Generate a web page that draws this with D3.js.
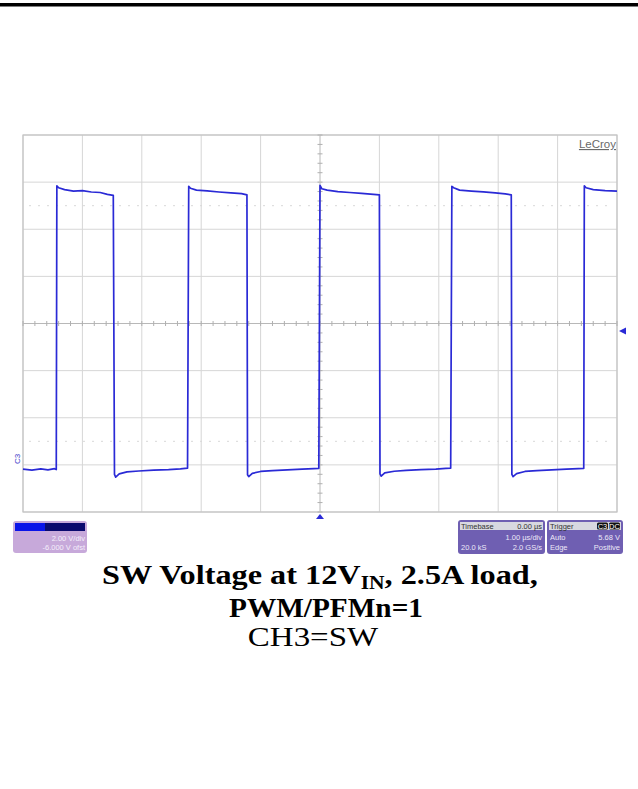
<!DOCTYPE html>
<html>
<head>
<meta charset="utf-8">
<script src="https://cdn.jsdelivr.net/npm/d3@7"></script>
<style>
  body { margin: 0; background: #fff; }
  svg { display: block; }
</style>
</head>
<body>
<svg id="main"></svg>
<script>
// scope settings
var timeDomain = [-5, 5];      // us, 1.00 us/div
var voltDomain = [-2, 14];     // V, 2.00 V/div, -6.000 V offset
var timeTicks = [-5, -4, -3, -2, -1, 0, 1, 2, 3, 4, 5];
var voltTicks = [-2, 0, 2, 4, 6, 8, 10, 12, 14];
var refLevels = [1, 11];
var triggerLevel = 5.68;
var triggerTime = 0;

// CH3 = SW trace
var traceTime = [
  -5.00, -4.85, -4.70, -4.58, -4.47, -4.44,
  -4.43, -4.40, -4.30, -4.15, -4.00, -3.85, -3.70, -3.58, -3.48,
  -3.46, -3.44, -3.38, -3.25, -3.05, -2.80, -2.55, -2.35, -2.23,
  -2.21, -2.18, -2.08, -1.90, -1.70, -1.50, -1.32, -1.23,
  -1.22, -1.20, -1.14, -1.00, -0.80, -0.55, -0.30, -0.10, -0.02,
   0.00,  0.03,  0.12,  0.30,  0.50,  0.70,  0.90,  1.00,
   1.01,  1.03,  1.09,  1.25,  1.45,  1.70,  1.95,  2.12,  2.20,
   2.22,  2.25,  2.35,  2.55,  2.75,  2.95,  3.12,  3.22,
   3.23,  3.25,  3.31,  3.45,  3.65,  3.90,  4.15,  4.35,  4.44,
   4.45,  4.48,  4.60,  4.80,  5.00
];
var traceVolt = [
  -0.18, -0.22, -0.17, -0.21, -0.16, -0.20,
  11.84, 11.76, 11.68, 11.62, 11.64, 11.58, 11.56, 11.48, 11.44,
  -0.40, -0.52, -0.38, -0.30, -0.26, -0.22, -0.20, -0.17, -0.14,
  11.82, 11.74, 11.66, 11.63, 11.58, 11.54, 11.51, 11.46,
  -0.42, -0.50, -0.36, -0.28, -0.24, -0.21, -0.18, -0.16, -0.15,
  11.86, 11.72, 11.66, 11.60, 11.56, 11.52, 11.48, 11.46,
  -0.38, -0.48, -0.34, -0.27, -0.23, -0.20, -0.18, -0.15, -0.14,
  11.82, 11.76, 11.66, 11.62, 11.59, 11.54, 11.50, 11.46,
  -0.40, -0.50, -0.37, -0.28, -0.24, -0.21, -0.18, -0.16, -0.15,
  11.84, 11.76, 11.68, 11.64, 11.62
];

var w = 638;
var h = 789;
// plot area (avoid "top" which is a window property)
var pL = 23, pR = 617, pT = 135, pB = 512;

var svg = d3.select("#main")
  .attr("width", w)
  .attr("height", h);

// page rule at top
svg.append("rect")
  .attr("x", 0).attr("y", 3)
  .attr("width", w).attr("height", 3.5)
  .attr("fill", "#000");

var xScale = d3.scaleLinear().domain(timeDomain).range([pL, pR]);
var yScale = d3.scaleLinear().domain(voltDomain).range([pB, pT]);

var grid = svg.append("g");

grid.selectAll("line.v")
  .data(timeTicks)
  .enter()
  .append("line")
  .attr("x1", function(d) { return xScale(d); })
  .attr("x2", function(d) { return xScale(d); })
  .attr("y1", pT).attr("y2", pB)
  .attr("stroke", function(d) { return d === 0 ? "#b8b8b8" : "#d6d6d6"; })
  .attr("stroke-width", 1);

grid.selectAll("line.h")
  .data(voltTicks)
  .enter()
  .append("line")
  .attr("y1", function(d) { return yScale(d); })
  .attr("y2", function(d) { return yScale(d); })
  .attr("x1", pL).attr("x2", pR)
  .attr("stroke", function(d) { return d === 6 ? "#b8b8b8" : "#d6d6d6"; })
  .attr("stroke-width", 1);

// outer frame
grid.append("rect")
  .attr("x", pL).attr("y", pT)
  .attr("width", pR - pL).attr("height", pB - pT)
  .attr("fill", "none")
  .attr("stroke", "#c4c4c4")
  .attr("stroke-width", 1.2);

// dotted reference lines
grid.selectAll("line.ref")
  .data(refLevels)
  .enter()
  .append("line")
  .attr("y1", function(d) { return yScale(d); })
  .attr("y2", function(d) { return yScale(d); })
  .attr("x1", pL + 6).attr("x2", pR - 6)
  .attr("stroke", "#d8d8d8")
  .attr("stroke-dasharray", "2,7");

// minor ticks on centre axes
var minorT = d3.range(-5, 5.01, 0.2);
var minorV = d3.range(-2, 14.01, 0.4);
grid.selectAll("line.mt")
  .data(minorT)
  .enter()
  .append("line")
  .attr("x1", function(d) { return xScale(d); })
  .attr("x2", function(d) { return xScale(d); })
  .attr("y1", yScale(6) - 2.5).attr("y2", yScale(6) + 2.5)
  .attr("stroke", "#b0b0b0");
grid.selectAll("line.mv")
  .data(minorV)
  .enter()
  .append("line")
  .attr("y1", function(d) { return yScale(d); })
  .attr("y2", function(d) { return yScale(d); })
  .attr("x1", xScale(0) - 2.5).attr("x2", xScale(0) + 2.5)
  .attr("stroke", "#b0b0b0");

// LeCroy mark
svg.append("text")
  .attr("x", 616).attr("y", 148)
  .attr("text-anchor", "end")
  .attr("font-family", "Liberation Sans, Arial, sans-serif")
  .attr("font-size", 11.5)
  .attr("fill", "#6a6a6a")
  .attr("text-decoration", "underline")
  .text("LeCroy");

// trace
var trace = traceTime.map(function(t, i) { return [t, traceVolt[i]]; });
var line = d3.line()
  .x(function(d) { return xScale(d[0]); })
  .y(function(d) { return yScale(d[1]); });

svg.append("path")
  .datum(trace)
  .attr("d", line)
  .attr("fill", "none")
  .attr("stroke", "#2a2ad6")
  .attr("stroke-width", 1.7)
  .attr("stroke-linejoin", "round");

// channel marker C3 at ground level
svg.append("text")
  .attr("transform", "translate(20," + (yScale(0) - 6) + ") rotate(-90)")
  .attr("text-anchor", "middle")
  .attr("font-family", "Liberation Sans, Arial, sans-serif")
  .attr("font-size", 8)
  .attr("fill", "#3a3ac8")
  .text("C3");

// trigger position marker (bottom)
var tx = xScale(triggerTime);
svg.append("path")
  .attr("d", "M" + (tx - 4) + "," + (pB + 7) + "L" + (tx + 4) + "," + (pB + 7) + "L" + tx + "," + (pB + 2) + "Z")
  .attr("fill", "#2a2ad6");

// trigger level marker (right)
var ty = yScale(triggerLevel);
svg.append("path")
  .attr("d", "M" + (pR + 2) + "," + ty + "L" + (pR + 9) + "," + (ty - 3.5) + "L" + (pR + 9) + "," + (ty + 3.5) + "Z")
  .attr("fill", "#2a2ad6");

// info boxes
var small = "Liberation Sans, Arial, sans-serif";
function txt(x, y, s, anchor, col) {
  svg.append("text")
    .attr("x", x).attr("y", y)
    .attr("text-anchor", anchor)
    .attr("font-family", small)
    .attr("font-size", 7.5)
    .attr("fill", col)
    .text(s);
}

// channel box
svg.append("rect").attr("x", 13).attr("y", 521).attr("width", 74).attr("height", 32)
  .attr("rx", 3).attr("fill", "#c7a9da");
svg.append("rect").attr("x", 15).attr("y", 523).attr("width", 70).attr("height", 8)
  .attr("fill", "#0a0a6e");
svg.append("rect").attr("x", 15).attr("y", 523).attr("width", 30).attr("height", 8)
  .attr("fill", "#0a14e8");
txt(85, 541, "2.00 V/div", "end", "#f4eefa");
txt(85, 550, "-6.000 V ofst", "end", "#f4eefa");

// timebase box
svg.append("rect").attr("x", 458).attr("y", 520).attr("width", 87).attr("height", 34)
  .attr("rx", 3).attr("fill", "#6f5fb2");
svg.append("rect").attr("x", 460).attr("y", 522).attr("width", 83).attr("height", 8)
  .attr("fill", "#d8d8e0");
txt(461, 529, "Timebase", "start", "#333");
txt(542, 529, "0.00 \u00b5s", "end", "#333");
txt(542, 540, "1.00 \u00b5s/div", "end", "#ece8f8");
txt(461, 550, "20.0 kS", "start", "#ece8f8");
txt(542, 550, "2.0 GS/s", "end", "#ece8f8");

// trigger box
svg.append("rect").attr("x", 547).attr("y", 520).attr("width", 76).attr("height", 34)
  .attr("rx", 3).attr("fill", "#6f5fb2");
svg.append("rect").attr("x", 549).attr("y", 522).attr("width", 72).attr("height", 8)
  .attr("fill", "#d8d8e0");
svg.append("rect").attr("x", 597).attr("y", 522.5).attr("width", 11).attr("height", 7).attr("rx", 1.5).attr("fill", "#111");
svg.append("rect").attr("x", 609).attr("y", 522.5).attr("width", 11).attr("height", 7).attr("rx", 1.5).attr("fill", "#111");
txt(550, 529, "Trigger", "start", "#333");
txt(602.5, 529, "C3", "middle", "#fff");
txt(614.5, 529, "DC", "middle", "#fff");
txt(550, 540, "Auto", "start", "#ece8f8");
txt(620, 540, "5.68 V", "end", "#ece8f8");
txt(550, 550, "Edge", "start", "#ece8f8");
txt(620, 550, "Positive", "end", "#ece8f8");

// caption, stretched horizontally to the widths seen in the reference
var serif = "Liberation Serif, Times New Roman, serif";
function fitX(sel, cx, target) {
  var bw = sel.node().getBBox().width;
  var k = target / bw;
  sel.attr("transform", "translate(" + cx + ",0) scale(" + k + ",1) translate(" + (-cx) + ",0)");
}

var cap1 = svg.append("text")
  .attr("x", 320).attr("y", 584)
  .attr("text-anchor", "middle")
  .attr("font-family", serif)
  .attr("font-weight", "bold")
  .attr("font-size", 27);
cap1.append("tspan").text("SW Voltage at 12V");
cap1.append("tspan").attr("font-size", 18).attr("dy", 5).text("IN");
cap1.append("tspan").attr("dy", -5).text(", 2.5A load,");
fitX(cap1, 320, 436);

var cap2 = svg.append("text")
  .attr("x", 326).attr("y", 617)
  .attr("text-anchor", "middle")
  .attr("font-family", serif)
  .attr("font-weight", "bold")
  .attr("font-size", 27)
  .text("PWM/PFMn=1");
fitX(cap2, 326, 194);

var cap3 = svg.append("text")
  .attr("x", 313).attr("y", 646)
  .attr("text-anchor", "middle")
  .attr("font-family", serif)
  .attr("font-size", 27)
  .text("CH3=SW");
fitX(cap3, 313, 131);
</script>
</body>
</html>
